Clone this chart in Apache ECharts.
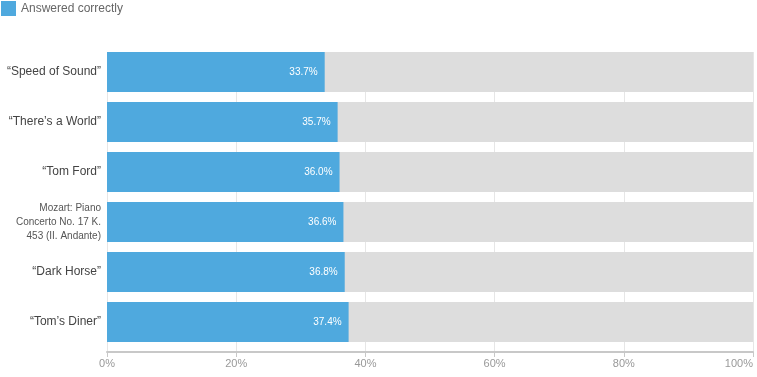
<!DOCTYPE html>
<html>
<head>
<meta charset="utf-8">
<script src="https://cdn.jsdelivr.net/npm/echarts@6/dist/echarts.min.js"></script>
<style>
  html, body { margin: 0; padding: 0; background: #fff; }
  #chart { width: 757px; height: 377px; }
</style>
</head>
<body>
<div id="chart"></div>
<script>
// 数据
const songs = [
  '\u201cSpeed of Sound\u201d',
  '\u201cThere\u2019s a World\u201d',
  '\u201cTom Ford\u201d',
  'Mozart: Piano\nConcerto No. 17 K.\n453 (II. Andante)',
  '\u201cDark Horse\u201d',
  '\u201cTom\u2019s Diner\u201d'
]
const correct = [33.7, 35.7, 36.0, 36.6, 36.8, 37.4]
const xTicks = [0, 20, 40, 60, 80, 100]

const chart = echarts.init(document.getElementById('chart'))

const option = {
  animation: false,
  textStyle: { fontFamily: 'Liberation Sans, Arial, sans-serif' },
  legend: {
    left: 1,
    top: 1,
    padding: 0,
    icon: 'rect',
    itemWidth: 15,
    itemHeight: 15,
    itemGap: 6,
    textStyle: { color: '#666', fontSize: 12 },
    data: ['Answered correctly']
  },
  grid: {
    left: 107,
    right: 4,
    top: 52,
    height: 300,
    containLabel: false,
    outerBoundsMode: 'none'
  },
  xAxis: {
    type: 'value',
    min: 0,
    max: 100,
    interval: 20,
    axisLine: { show: true, lineStyle: { color: '#c8c8c8', width: 2 } },
    axisTick: { show: true, length: 5, lineStyle: { color: '#c8c8c8' } },
    axisLabel: {
      color: '#999',
      fontSize: 11,
      margin: 6,
      alignMaxLabel: 'right',
      formatter: v => (xTicks.includes(v) ? v + '%' : '')
    },
    splitLine: { show: true, lineStyle: { color: '#e6e6e6' } }
  },
  yAxis: {
    type: 'category',
    inverse: true,
    data: songs,
    axisLine: { show: false },
    axisTick: { show: false },
    axisLabel: {
      color: '#444',
      fontSize: 12,
      margin: 6,
      padding: [0, 0, 10, 0],
      rich: {
        s: { fontSize: 10, lineHeight: 14, color: '#555', align: 'right' }
      },
      // 长标题用小号字
      formatter: v => v.includes('\n')
        ? v.split('\n').map(l => '{s|' + l + '}').join('\n')
        : v
    }
  },
  series: [
    {
      name: 'Answered correctly',
      type: 'bar',
      barWidth: 40,
      barGap: 0,
      data: correct,
      itemStyle: { color: '#4fa9de' },
      showBackground: true,
      backgroundStyle: { color: '#dddddd' },
      label: {
        show: true,
        position: 'insideRight',
        distance: 7,
        color: '#fff',
        fontSize: 10,
        formatter: p => p.value.toFixed(1) + '%'
      }
    },
    {
      // 占位，使柱子贴在每个分类的上方
      name: 'spacer',
      type: 'bar',
      barWidth: 10,
      barGap: 0,
      data: correct.map(() => '-'),
      silent: true
    }
  ]
}

chart.setOption(option)
</script>
</body>
</html>
